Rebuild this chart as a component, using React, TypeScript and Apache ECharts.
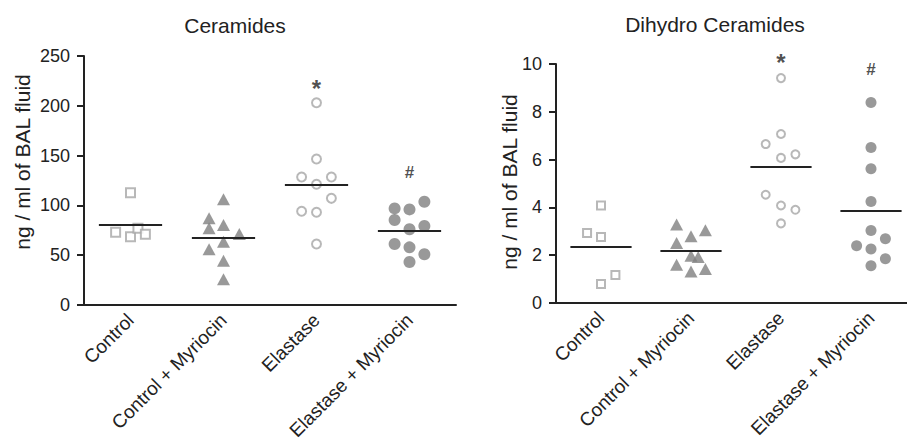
import React, { useEffect, useRef } from "react";
import * as echarts from "echarts";

const CATEGORIES = ["Control", "Control + Myriocin", "Elastase", "Elastase + Myriocin"];
const TITLES = ["Ceramides", "Dihydro Ceramides"];
const Y_NAME = "ng / ml of BAL fluid";

// Left panel: Ceramides (ng/ml)
const L_CONTROL = [112.7, 73, 68.6, 77, 71];
const L_CONTROL_JIT = [0, -0.16, 0, 0.08, 0.16];
const L_CTRL_MYR = [106.1, 87, 77, 80.3, 71.3, 63.6, 55.9, 44.5, 25.8];
const L_CTRL_MYR_JIT = [0, -0.155, -0.155, 0, 0.17, 0, -0.155, 0, 0];
const L_ELAST = [203.1, 146.6, 128.5, 128.5, 121.2, 107.1, 94.1, 93.1, 61.2];
const L_ELAST_JIT = [0, 0, -0.16, 0.16, 0, 0.16, -0.16, 0, 0];
const L_ELAST_MYR = [97, 96, 103.7, 85.3, 79.3, 76, 61.2, 57.9, 50.9, 43.2];
const L_ELAST_MYR_JIT = [-0.16, 0, 0.16, -0.16, 0.16, 0, -0.16, 0, 0.16, 0];
const L_TICKS = { min: 0, max: 250, interval: 50 };
const L_MARKS = [
  { cat: 2, value: 217, text: "*" },
  { cat: 3, value: 133, text: "#" },
];

// Right panel: Dihydro Ceramides (ng/ml)
const R_CONTROL = [4.08, 2.93, 2.76, 1.17, 0.79];
const R_CONTROL_JIT = [0, -0.155, 0, 0.16, 0];
const R_CTRL_MYR = [3.28, 3.04, 2.79, 2.51, 1.98, 1.92, 1.6, 1.42, 1.32];
const R_CTRL_MYR_JIT = [-0.16, 0.16, 0, -0.16, 0, 0.08, -0.16, 0.16, 0];
const R_ELAST = [9.41, 7.07, 6.65, 6.22, 6.07, 4.53, 4.08, 3.9, 3.33];
const R_ELAST_JIT = [0, 0, -0.17, 0.16, 0, -0.17, 0, 0.16, 0];
const R_ELAST_MYR = [8.39, 6.51, 5.62, 4.25, 3.03, 2.69, 2.4, 2.26, 1.85, 1.56];
const R_ELAST_MYR_JIT = [0, 0, 0, 0, 0, 0.16, -0.16, 0, 0.16, 0];
const R_TICKS = { min: 0, max: 10, interval: 2 };
const R_MARKS = [
  { cat: 2, value: 10.05, text: "*" },
  { cat: 3, value: 9.75, text: "#" },
];

const FONT = "'Liberation Sans', Arial, Helvetica, sans-serif";
const INK = "#222222";
const OPEN = "#a6a6a6";
const FILL = "#7f7f7f";
const MEAN_HALF = 0.34;

const mean = (a: number[]) => a.reduce((s, v) => s + v, 0) / a.length;

type Group = { values: number[]; jitter: number[]; kind: "sq" | "tri" | "oc" | "fc" };

function panel(
  idx: number,
  groups: Group[],
  ticks: { min: number; max: number; interval: number },
  marks: { cat: number; value: number; text: string }[],
  sizes: { sq: number; tri: number[]; oc: number; fc: number }
) {
  const xCat = {
    type: "category",
    gridIndex: idx,
    data: CATEGORIES,
    boundaryGap: true,
    axisLine: { onZero: false, lineStyle: { color: INK, width: 2 } },
    axisTick: { alignWithLabel: true, length: 7, lineStyle: { color: INK, width: 2 } },
    axisLabel: { rotate: 45, fontSize: 19, color: INK, fontFamily: FONT, margin: 12, interval: 0 },
    splitLine: { show: false },
  };
  const xVal = {
    type: "value",
    gridIndex: idx,
    min: -0.5,
    max: 3.5,
    show: false,
    splitLine: { show: false },
  };
  const y = {
    type: "value",
    gridIndex: idx,
    position: "left",
    min: ticks.min,
    max: ticks.max,
    interval: ticks.interval,
    axisLine: { show: true, onZero: false, lineStyle: { color: INK, width: 2 } },
    axisTick: { show: true, length: 7, lineStyle: { color: INK, width: 2 } },
    axisLabel: { fontSize: 18, color: INK, fontFamily: FONT, margin: 14 },
    splitLine: { show: false },
  };
  const xValIndex = idx * 2 + 1;
  const series: any[] = groups.map((g, gi) => {
    let symbol = "circle";
    let symbolSize: any = sizes.oc;
    let itemStyle: any = { color: "#ffffff", borderColor: OPEN, borderWidth: 2 };
    if (g.kind === "sq") {
      symbol = "rect";
      symbolSize = sizes.sq;
    } else if (g.kind === "tri") {
      symbol = "triangle";
      symbolSize = sizes.tri;
      itemStyle = { color: FILL, borderWidth: 0 };
    } else if (g.kind === "fc") {
      symbolSize = sizes.fc;
      itemStyle = { color: FILL, borderWidth: 0 };
    }
    return {
      type: "scatter",
      xAxisIndex: xValIndex,
      yAxisIndex: idx,
      symbol,
      symbolSize,
      itemStyle,
      silent: true,
      data: g.values.map((v, i) => [gi + g.jitter[i], v]),
      z: 3,
    };
  });
  series.push({
    type: "lines",
    coordinateSystem: "cartesian2d",
    xAxisIndex: xValIndex,
    yAxisIndex: idx,
    silent: true,
    lineStyle: { color: INK, width: 2, opacity: 1 },
    data: groups.map((g, gi) => ({
      coords: [
        [gi - MEAN_HALF, mean(g.values)],
        [gi + MEAN_HALF, mean(g.values)],
      ],
    })),
    z: 4,
  });
  series.push({
    type: "scatter",
    xAxisIndex: xValIndex,
    yAxisIndex: idx,
    symbolSize: 0,
    silent: true,
    clip: false,
    data: marks.map((m) => ({
      value: [m.cat, m.value],
      label: {
        show: true,
        position: "inside",
        formatter: m.text,
        fontSize: m.text === "*" ? 24 : 17,
        fontWeight: "bold",
        color: INK,
        fontFamily: FONT,
      },
    })),
    z: 5,
  });
  return { xCat, xVal, y, series };
}

export default function App() {
  const ref = useRef<HTMLDivElement>(null);
  useEffect(() => {
    document.body.style.margin = "0";
    if (!ref.current) return;
    const chart = echarts.init(ref.current, undefined, { renderer: "svg" });
    const left = panel(
      0,
      [
        { values: L_CONTROL, jitter: L_CONTROL_JIT, kind: "sq" },
        { values: L_CTRL_MYR, jitter: L_CTRL_MYR_JIT, kind: "tri" },
        { values: L_ELAST, jitter: L_ELAST_JIT, kind: "oc" },
        { values: L_ELAST_MYR, jitter: L_ELAST_MYR_JIT, kind: "fc" },
      ],
      L_TICKS,
      L_MARKS,
      { sq: 9, tri: [13, 12], oc: 9, fc: 12 }
    );
    const right = panel(
      1,
      [
        { values: R_CONTROL, jitter: R_CONTROL_JIT, kind: "sq" },
        { values: R_CTRL_MYR, jitter: R_CTRL_MYR_JIT, kind: "tri" },
        { values: R_ELAST, jitter: R_ELAST_JIT, kind: "oc" },
        { values: R_ELAST_MYR, jitter: R_ELAST_MYR_JIT, kind: "fc" },
      ],
      R_TICKS,
      R_MARKS,
      { sq: 8, tri: [13, 12], oc: 8, fc: 11 }
    );
    chart.setOption({
      animation: false,
      backgroundColor: "#ffffff",
      grid: [
        { left: 84, right: 451, top: 56, bottom: 135, containLabel: false, outerBoundsMode: "none" },
        { left: 556, right: -9, top: 64, bottom: 137, containLabel: false, outerBoundsMode: "none" },
      ],
      xAxis: [left.xCat, left.xVal, right.xCat, right.xVal],
      yAxis: [left.y, right.y],
      series: [...left.series, ...right.series],
      graphic: [
        {
          type: "text",
          x: 235,
          y: 25,
          style: { text: TITLES[0], fontSize: 21, fontFamily: FONT, fill: INK, align: "center", verticalAlign: "middle" },
        },
        {
          type: "text",
          x: 715,
          y: 24,
          style: { text: TITLES[1], fontSize: 21, fontFamily: FONT, fill: INK, align: "center", verticalAlign: "middle" },
        },
        {
          type: "text",
          x: 22,
          y: 162,
          rotation: Math.PI / 2,
          style: { text: Y_NAME, fontSize: 21, fontFamily: FONT, fill: INK, align: "center", verticalAlign: "middle" },
        },
        {
          type: "text",
          x: 509,
          y: 182,
          rotation: Math.PI / 2,
          style: { text: Y_NAME, fontSize: 21, fontFamily: FONT, fill: INK, align: "center", verticalAlign: "middle" },
        },
      ],
    });
    return () => chart.dispose();
  }, []);
  return <div ref={ref} style={{ width: 907, height: 440 }} />;
}
